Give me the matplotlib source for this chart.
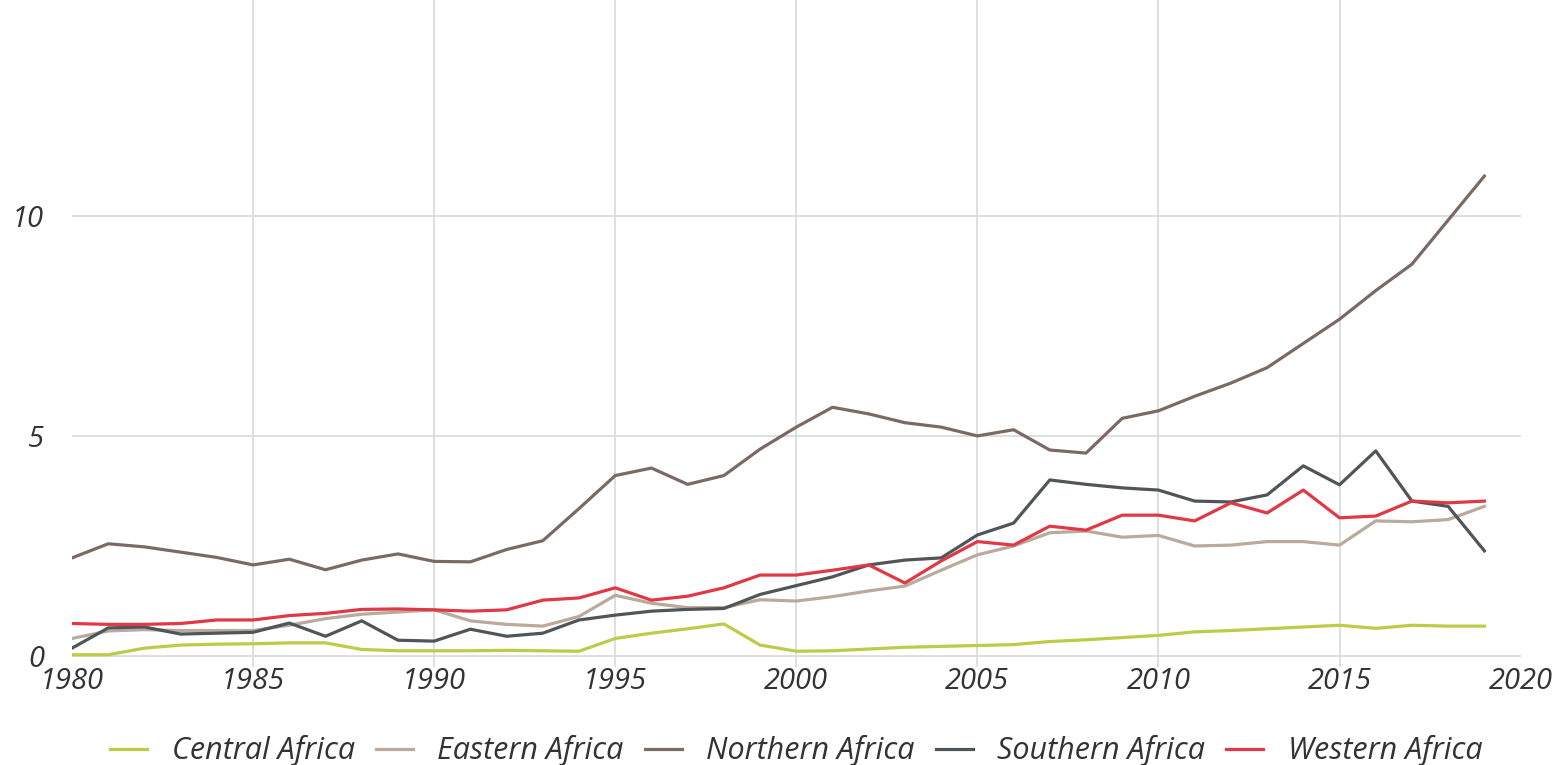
"""Line chart: regional values for African regions, 1980-2019."""

import matplotlib

matplotlib.use("Agg")

import matplotlib.pyplot as plt  # noqa: E402

plt.rcParams["font.family"] = ["Open Sans", "DejaVu Sans"]
plt.rcParams["font.style"] = "italic"

years = list(range(1980, 2020))

central_africa = [
    0.03, 0.03, 0.18, 0.25, 0.27, 0.28, 0.30, 0.30, 0.15, 0.12,
    0.12, 0.12, 0.13, 0.12, 0.11, 0.40, 0.52, 0.62, 0.73, 0.25,
    0.11, 0.12, 0.16, 0.20, 0.22, 0.24, 0.26, 0.33, 0.37, 0.42,
    0.47, 0.55, 0.58, 0.62, 0.66, 0.70, 0.63, 0.70, 0.68, 0.68,
]
eastern_africa = [
    0.40, 0.57, 0.60, 0.58, 0.58, 0.58, 0.70, 0.85, 0.95, 1.00,
    1.05, 0.80, 0.72, 0.68, 0.90, 1.38, 1.20, 1.10, 1.10, 1.28,
    1.25, 1.35, 1.48, 1.59, 1.95, 2.30, 2.50, 2.80, 2.84, 2.70,
    2.74, 2.50, 2.52, 2.60, 2.60, 2.52, 3.07, 3.05, 3.10, 3.40,
]
northern_africa = [
    2.23, 2.55, 2.48, 2.36, 2.24, 2.07, 2.20, 1.96, 2.18, 2.32,
    2.15, 2.14, 2.42, 2.62, 3.35, 4.10, 4.27, 3.90, 4.10, 4.70,
    5.20, 5.65, 5.50, 5.30, 5.20, 5.00, 5.14, 4.68, 4.61, 5.40,
    5.57, 5.90, 6.20, 6.55, 7.10, 7.65, 8.30, 8.90, 9.90, 10.90,
]
southern_africa = [
    0.18, 0.64, 0.66, 0.50, 0.52, 0.54, 0.75, 0.45, 0.80, 0.36,
    0.34, 0.61, 0.45, 0.52, 0.82, 0.93, 1.02, 1.06, 1.08, 1.40,
    1.60, 1.80, 2.07, 2.18, 2.23, 2.75, 3.02, 4.00, 3.90, 3.82,
    3.77, 3.52, 3.50, 3.66, 4.32, 3.89, 4.66, 3.52, 3.40, 2.39,
]
western_africa = [
    0.74, 0.72, 0.72, 0.74, 0.82, 0.82, 0.92, 0.97, 1.06, 1.07,
    1.05, 1.02, 1.05, 1.27, 1.32, 1.55, 1.27, 1.36, 1.55, 1.84,
    1.84, 1.95, 2.07, 1.66, 2.16, 2.60, 2.52, 2.95, 2.86, 3.20,
    3.20, 3.07, 3.48, 3.25, 3.77, 3.14, 3.18, 3.52, 3.48, 3.52,
]

series = [
    ("Central Africa", central_africa, "#bccb48"),
    ("Eastern Africa", eastern_africa, "#b9aa9c"),
    ("Northern Africa", northern_africa, "#7b6a64"),
    ("Southern Africa", southern_africa, "#4f5558"),
    ("Western Africa", western_africa, "#e03844"),
]

x_ticks = [1980, 1985, 1990, 1995, 2000, 2005, 2010, 2015, 2020]
y_ticks = [0, 5, 10]

fig = plt.figure(figsize=(15.66, 7.65), dpi=100)
ax = fig.add_axes([0.046, 0.128, 0.925, 0.872])

for name, values, color in series:
    ax.plot(years, values, color=color, linewidth=2.3, label=name,
            solid_joinstyle="round")

ax.set_xlim(1980, 2020)
ax.set_ylim(-0.25, 14.9)
ax.set_xticks(x_ticks)
ax.set_yticks(y_ticks)
ax.set_xticklabels([str(t) for t in x_ticks])
ax.set_yticklabels([str(t) for t in y_ticks])

ax.grid(True, color="#dcdcdc", linewidth=1.3)
ax.set_axisbelow(True)
gl = ax.get_xgridlines()
gl[0].set_visible(False)
gl[-1].set_visible(False)

for side in ("top", "right", "bottom", "left"):
    ax.spines[side].set_visible(False)
ax.tick_params(axis="both", length=0, labelsize=21, colors="#333333")
ax.tick_params(axis="x", pad=0)
ax.tick_params(axis="y", pad=20)

ax.legend(loc="lower center", bbox_to_anchor=(0.5, -0.19), ncol=5,
          frameon=False, fontsize=22, handlelength=1.2, handletextpad=0.8,
          columnspacing=0.7, labelcolor="#333333")

fig.savefig("out.png", dpi=100)
plt.close(fig)
